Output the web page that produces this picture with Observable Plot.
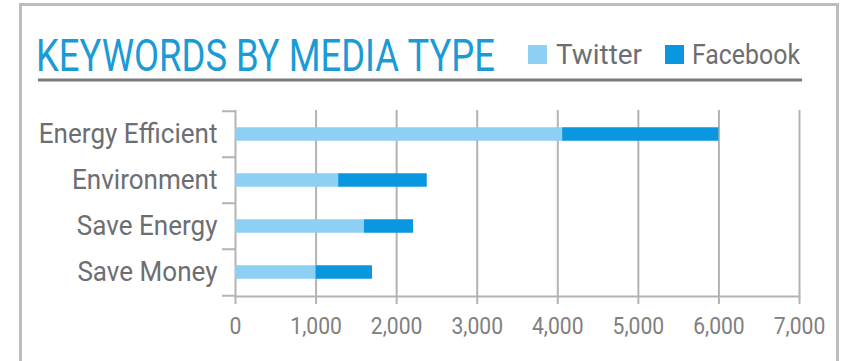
<!DOCTYPE html>
<html><head><meta charset="utf-8">
<script src="https://cdn.jsdelivr.net/npm/d3@7"></script>
<script src="https://cdn.jsdelivr.net/npm/@observablehq/plot@0.6"></script>
<style>
html,body{margin:0;padding:0;background:#fff;}
#wrap{position:relative;width:847px;height:361px;overflow:hidden;font-family:Roboto, sans-serif;background:#fff;}
#frame{position:absolute;left:19px;top:3px;width:820px;height:420px;border:3px solid #bcbcbc;box-sizing:border-box;}
#header{position:absolute;left:0;top:0;}
#chart{position:absolute;left:0;top:90px;}
</style></head><body>
<div id="wrap"><div id="frame"></div><svg id="header" width="847" height="90"></svg><div id="chart"></div></div>
<script>
const titleText = "KEYWORDS BY MEDIA TYPE";
const categories = ["Energy Efficient", "Environment", "Save Energy", "Save Money"];
const seriesNames = ["Twitter", "Facebook"];
const twitterValues = [4060, 1280, 1600, 1000];
const facebookValues = [1940, 1100, 610, 700];
const xTicks = [0, 1000, 2000, 3000, 4000, 5000, 6000, 7000];
const seriesColors = ["#8dd0f3", "#0b97e0"];

const data = categories.flatMap((c, i) => [
  {category: c, media: seriesNames[0], value: twitterValues[i]},
  {category: c, media: seriesNames[1], value: facebookValues[i]}
]);

// Header (title, legend, rule)
const header = d3.select("#header");
header.append("text").text(titleText)
  .attr("x", 0).attr("y", 0)
  .attr("transform", "translate(36,71) scale(1,1.22)")
  .attr("font-family", "Roboto").attr("font-size", 36)
  .attr("fill", "#1a9bd7")
  .attr("textLength", 459).attr("lengthAdjust", "spacingAndGlyphs");
header.append("line").attr("x1", 38).attr("x2", 802).attr("y1", 80).attr("y2", 80)
  .attr("stroke", "#7a7a7a").attr("stroke-width", 3);
const legendPos = [{sx: 528, tx: 556, tl: 86}, {sx: 665, tx: 692, tl: 108}];
seriesNames.forEach((s, i) => {
  header.append("rect").attr("x", legendPos[i].sx).attr("y", 45).attr("width", 19).attr("height", 19)
    .attr("fill", seriesColors[i]);
  header.append("text").text(s).attr("x", legendPos[i].tx).attr("y", 64)
    .attr("font-family", "Roboto").attr("font-size", 27).attr("fill", "#6d6e71")
    .attr("textLength", legendPos[i].tl).attr("lengthAdjust", "spacingAndGlyphs");
});

const H = 271, mTop = 20, mBottom = 65;
const step = (H - mTop - mBottom) / categories.length;
const grid = "#b3b3b3";

const chart = Plot.plot({
  width: 847, height: H,
  marginLeft: 235, marginRight: 48, marginTop: mTop, marginBottom: mBottom,
  x: {domain: [0, 7000], ticks: xTicks},
  y: {domain: categories, padding: 0},
  color: {domain: seriesNames, range: seriesColors},
  style: {fontFamily: "Roboto", background: "transparent", overflow: "visible"},
  marks: [
    Plot.ruleX(xTicks, {stroke: grid, strokeWidth: 2}),
    Plot.frame({anchor: "bottom", stroke: grid, strokeWidth: 2}),
    Plot.barX(data, {x: "value", y: "category", fill: "media", insetTop: 16.25, insetBottom: 16.25}),
    Plot.axisX(xTicks, {tickSize: 8, tickPadding: 12, stroke: grid, strokeWidth: 2, fill: "#808080", fontSize: 24, tickFormat: d3.format(","), label: null}),
    Plot.axisY(categories, {tickSize: 13, dy: -step / 2, stroke: grid, strokeWidth: 2, tickFormat: () => "", label: null}),
    Plot.axisY(categories.slice(-1), {tickSize: 13, dy: step / 2, stroke: grid, strokeWidth: 2, tickFormat: () => "", label: null}),
    Plot.axisY(categories, {tickSize: 0, tickPadding: 18, fontSize: 28, fill: "#6d6e71", label: null})
  ]
});
document.getElementById("chart").appendChild(chart);

// condensed look: shrink each label's advance width
function condense(sel, s) {
  sel.each(function() {
    if (!this.textContent) return;
    const w = this.getComputedTextLength();
    if (w > 0) {
      this.setAttribute("textLength", (w * s).toFixed(1));
      this.setAttribute("lengthAdjust", "spacingAndGlyphs");
    }
  });
}
condense(d3.select(chart).selectAll('g[aria-label="y-axis tick label"] text'), 0.93);
condense(d3.select(chart).selectAll('g[aria-label="x-axis tick label"] text'), 0.88);
</script>
</body></html>
